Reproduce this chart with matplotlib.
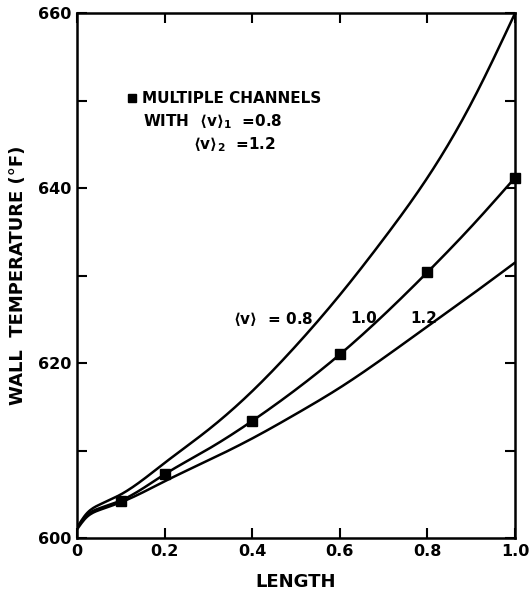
import numpy as np
import matplotlib
matplotlib.use("Agg")
import matplotlib.pyplot as plt

length = [0, 0.02, 0.05, 0.1, 0.2, 0.3, 0.4, 0.5, 0.6, 0.7, 0.8, 0.9, 1.0]

# wall temperature for <v> = 0.8, 1.0, 1.2
temp_v08 = [601.2, 602.7, 603.8, 605.0, 608.6, 612.4, 616.8, 622.0, 627.8, 634.2, 641.2, 649.7, 660.0]
temp_v10 = [601.2, 602.5, 603.4, 604.3, 607.3, 610.2, 613.4, 617.0, 621.0, 625.5, 630.4, 635.6, 641.2]
temp_v12 = [601.0, 602.3, 603.2, 604.1, 606.5, 608.9, 611.4, 614.2, 617.2, 620.6, 624.2, 627.8, 631.5]

# multiple channel points
mc_length = [0.1, 0.2, 0.4, 0.6, 0.8, 1.0]
mc_temp = [604.3, 607.3, 613.4, 621.0, 630.4, 641.2]


def smooth(x, y, n=300):
    # natural cubic spline through the read points
    x = np.asarray(x, float)
    y = np.asarray(y, float)
    N = len(x)
    h = np.diff(x)
    A = np.zeros((N, N))
    b = np.zeros(N)
    A[0, 0] = A[-1, -1] = 1
    for i in range(1, N - 1):
        A[i, i - 1] = h[i - 1]
        A[i, i] = 2 * (h[i - 1] + h[i])
        A[i, i + 1] = h[i]
        b[i] = 6 * ((y[i + 1] - y[i]) / h[i] - (y[i] - y[i - 1]) / h[i - 1])
    M = np.linalg.solve(A, b)
    xs = np.linspace(x[0], x[-1], n)
    k = np.clip(np.searchsorted(x, xs) - 1, 0, N - 2)
    a = x[k + 1] - xs
    c = xs - x[k]
    hk = h[k]
    ys = (M[k] * a**3 + M[k + 1] * c**3) / (6 * hk) \
        + (y[k] / hk - M[k] * hk / 6) * a + (y[k + 1] / hk - M[k + 1] * hk / 6) * c
    return xs, ys


plt.rcParams['font.family'] = ['DejaVu Sans']
plt.rcParams['font.weight'] = 'bold'
plt.rcParams['mathtext.fontset'] = 'dejavusans'
plt.rcParams['mathtext.default'] = 'bf'

fig = plt.figure(figsize=(5.31, 5.98), dpi=100)
ax = fig.add_axes([0.145, 0.100, 0.825, 0.878])

for temps in (temp_v08, temp_v10, temp_v12):
    xs, ys = smooth(length, temps)
    ax.plot(xs, ys, color='black', lw=1.8, solid_capstyle='round')

ax.plot(mc_length, mc_temp, ls='none', marker='s', ms=7, color='black', clip_on=False)

ax.set_xlim(0, 1.0)
ax.set_ylim(600, 660)
ax.set_xticks([0, 0.2, 0.4, 0.6, 0.8, 1.0])
ax.set_xticklabels(['0', '0.2', '0.4', '0.6', '0.8', '1.0'])
ax.set_yticks([600, 620, 640, 660])
ax.set_yticks([610, 630, 650], minor=True)
ax.tick_params(which='both', direction='in', top=True, right=True,
               width=1.5, length=7, labelsize=11.5, pad=4)
for lab in ax.get_xticklabels() + ax.get_yticklabels():
    lab.set_fontweight('bold')
for sp in ax.spines.values():
    sp.set_linewidth(1.8)

ax.set_xlabel('LENGTH', fontsize=13, fontweight='bold', labelpad=10)
ax.set_ylabel('WALL  TEMPERATURE (°F)', fontsize=13, fontweight='bold', labelpad=8)

# legend-like annotation
ax.plot([0.125], [650.3], marker='s', ms=6, color='black', ls='none')
ax.text(0.148, 650.3, 'MULTIPLE CHANNELS', fontsize=11, fontweight='bold', va='center')
ax.text(0.15, 647.6, r'WITH  $\langle v \rangle_1$  =0.8', fontsize=11, fontweight='bold', va='center')
ax.text(0.265, 645.0, r'$\langle v \rangle_2$  =1.2', fontsize=11, fontweight='bold', va='center')

# curve labels
ax.text(0.355, 625.1, r'$\langle v \rangle$  = 0.8', fontsize=11, fontweight='bold', va='center')
ax.text(0.625, 625.1, '1.0', fontsize=11, fontweight='bold', va='center')
ax.text(0.76, 625.1, '1.2', fontsize=11, fontweight='bold', va='center')

fig.savefig('out.png', dpi=100)
